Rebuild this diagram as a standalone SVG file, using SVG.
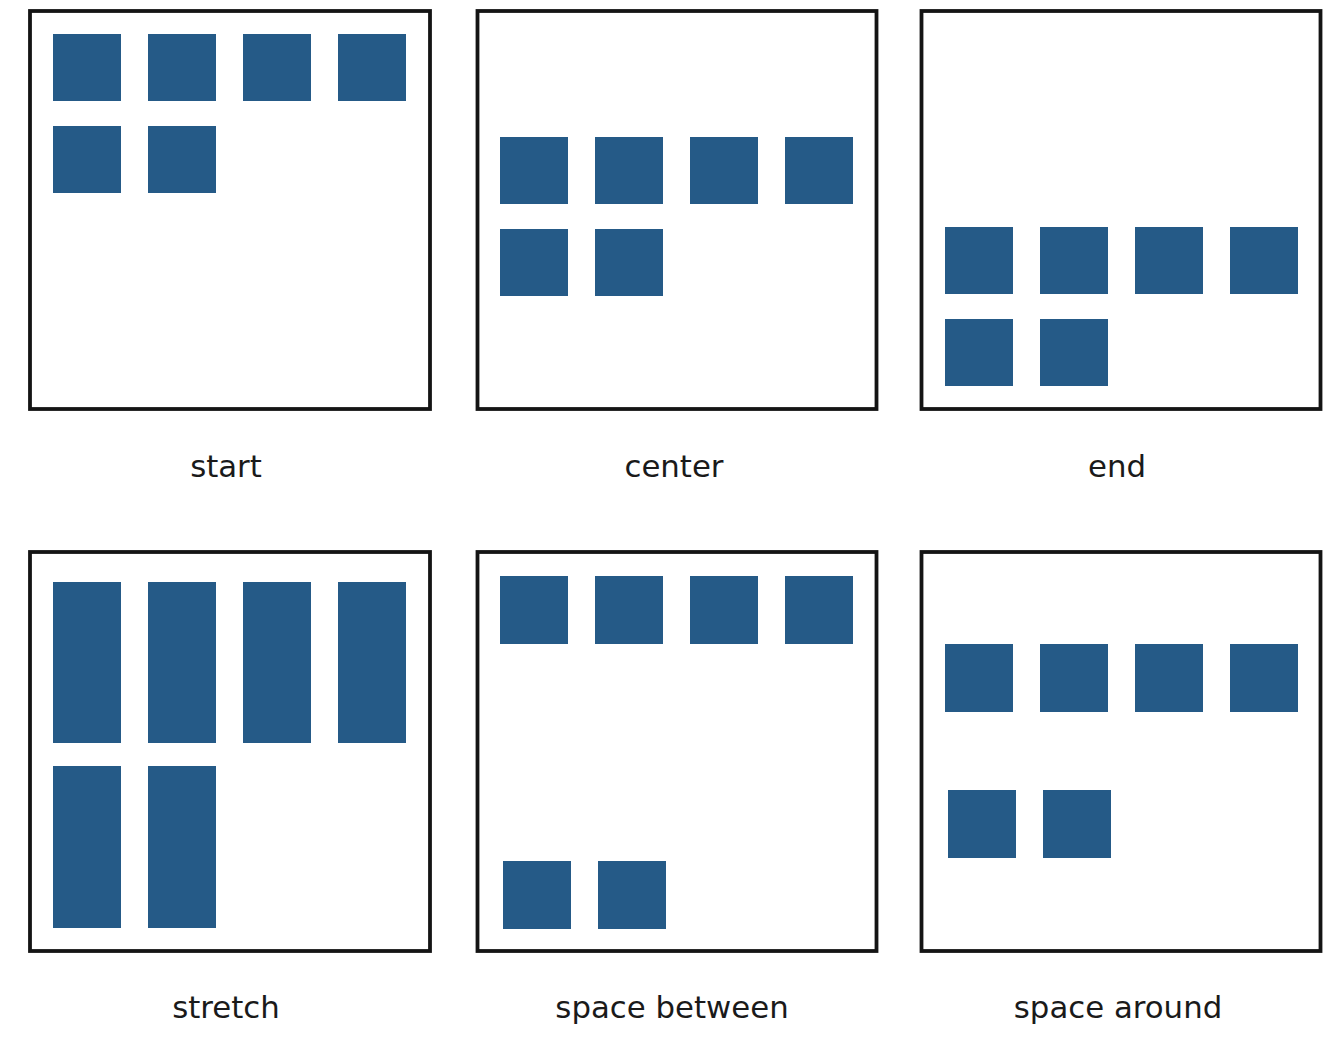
<svg xmlns="http://www.w3.org/2000/svg" width="1332" height="1048" viewBox="0 0 1332 1048">
<style>
.box{fill:#fff;stroke:#141414;stroke-width:3.8}
.sq{fill:#255a87}
.lbl{font-family:"DejaVu Sans",Verdana,sans-serif;font-size:30.8px;fill:#1a1a1a;text-anchor:middle}
</style>
<rect width="1332" height="1048" fill="#fff"/>
<g id="start">
<rect class="box" x="30" y="11" width="400" height="398"/>
<rect class="sq" x="53" y="34" width="68" height="67"/>
<rect class="sq" x="148" y="34" width="68" height="67"/>
<rect class="sq" x="243" y="34" width="68" height="67"/>
<rect class="sq" x="338" y="34" width="68" height="67"/>
<rect class="sq" x="53" y="126" width="68" height="67"/>
<rect class="sq" x="148" y="126" width="68" height="67"/>
<text class="lbl" x="226" y="477">start</text>
</g>
<g id="center">
<rect class="box" x="477.5" y="11" width="399" height="398"/>
<rect class="sq" x="500" y="137" width="68" height="67"/>
<rect class="sq" x="595" y="137" width="68" height="67"/>
<rect class="sq" x="690" y="137" width="68" height="67"/>
<rect class="sq" x="785" y="137" width="68" height="67"/>
<rect class="sq" x="500" y="229" width="68" height="67"/>
<rect class="sq" x="595" y="229" width="68" height="67"/>
<text class="lbl" x="674" y="477">center</text>
</g>
<g id="end">
<rect class="box" x="921.5" y="11" width="399" height="398"/>
<rect class="sq" x="945" y="227" width="68" height="67"/>
<rect class="sq" x="1040" y="227" width="68" height="67"/>
<rect class="sq" x="1135" y="227" width="68" height="67"/>
<rect class="sq" x="1230" y="227" width="68" height="67"/>
<rect class="sq" x="945" y="319" width="68" height="67"/>
<rect class="sq" x="1040" y="319" width="68" height="67"/>
<text class="lbl" x="1117" y="477">end</text>
</g>
<g id="stretch">
<rect class="box" x="30" y="552" width="400" height="399"/>
<rect class="sq" x="53" y="582" width="68" height="161"/>
<rect class="sq" x="148" y="582" width="68" height="161"/>
<rect class="sq" x="243" y="582" width="68" height="161"/>
<rect class="sq" x="338" y="582" width="68" height="161"/>
<rect class="sq" x="53" y="766" width="68" height="162"/>
<rect class="sq" x="148" y="766" width="68" height="162"/>
<text class="lbl" x="226" y="1018">stretch</text>
</g>
<g id="space-between">
<rect class="box" x="477.5" y="552" width="399" height="399"/>
<rect class="sq" x="500" y="576" width="68" height="68"/>
<rect class="sq" x="595" y="576" width="68" height="68"/>
<rect class="sq" x="690" y="576" width="68" height="68"/>
<rect class="sq" x="785" y="576" width="68" height="68"/>
<rect class="sq" x="503" y="861" width="68" height="68"/>
<rect class="sq" x="598" y="861" width="68" height="68"/>
<text class="lbl" x="672" y="1018">space between</text>
</g>
<g id="space-around">
<rect class="box" x="921.5" y="552" width="399" height="399"/>
<rect class="sq" x="945" y="644" width="68" height="68"/>
<rect class="sq" x="1040" y="644" width="68" height="68"/>
<rect class="sq" x="1135" y="644" width="68" height="68"/>
<rect class="sq" x="1230" y="644" width="68" height="68"/>
<rect class="sq" x="948" y="790" width="68" height="68"/>
<rect class="sq" x="1043" y="790" width="68" height="68"/>
<text class="lbl" x="1118" y="1018">space around</text>
</g>
<g id="connectors"/>
</svg>
